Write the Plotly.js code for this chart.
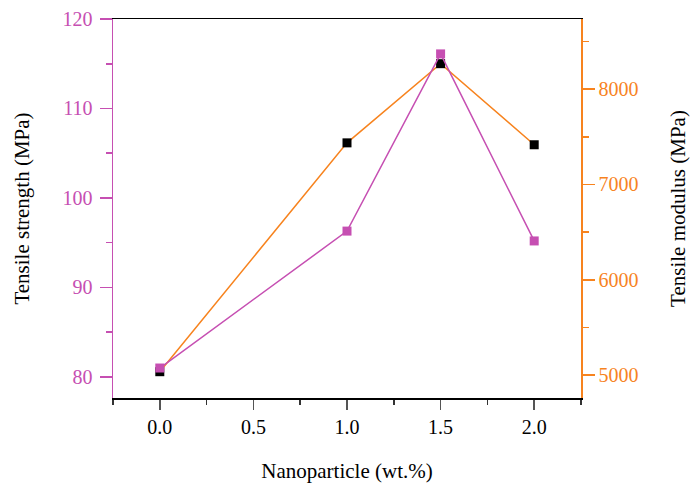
<!DOCTYPE html>
<html>
<head>
<meta charset="utf-8">
<script src="https://cdn.plot.ly/plotly-3.0.1.min.js"></script>
<style>html,body{margin:0;padding:0;background:#fff;}#chart{width:690px;height:483px;}</style>
</head>
<body>
<div id="chart"></div>
<script>
const nanoparticle = [0.0, 1.0, 1.5, 2.0];
const tensileStrength = [81.0, 96.3, 116.1, 95.2];
const tensileModulus = [5035, 7437, 8268, 7417];

const pink = '#C64FB2';
const orange = '#F7831E';
const fontFam = '"Liberation Serif", "Times New Roman", serif';

const modulusTrace = {
  x: nanoparticle, y: tensileModulus, yaxis: 'y', type: 'scatter', mode: 'lines+markers',
  line: {color: orange, width: 1.5},
  marker: {symbol: 'square', size: 9, color: '#000000'},
  showlegend: false, hoverinfo: 'none'
};
const strengthTrace = {
  x: nanoparticle, y: tensileStrength, yaxis: 'y2', type: 'scatter', mode: 'lines+markers',
  line: {color: pink, width: 1.5},
  marker: {symbol: 'square', size: 9, color: pink},
  showlegend: false, hoverinfo: 'none'
};

const layout = {
  width: 690, height: 483,
  margin: {l: 113, r: 109, t: 19, b: 85},
  paper_bgcolor: '#fff', plot_bgcolor: '#fff',
  font: {family: fontFam, size: 20, color: '#000'},
  showlegend: false,
  xaxis: {
    domain: [0, 1],
    range: [-0.25, 2.25], tick0: 0, dtick: 0.5, tickformat: '.1f',
    ticks: 'outside', ticklen: 10, tickwidth: 1.5, tickcolor: '#555',
    showline: true, linecolor: '#000', linewidth: 1.5, mirror: true,
    showgrid: false, zeroline: false,
    minor: {dtick: 0.25, tick0: 0, ticks: 'outside', ticklen: 5, tickwidth: 1.5, tickcolor: '#333', showgrid: false},
    tickfont: {family: fontFam, size: 20, color: '#000'},
    title: {text: 'Nanoparticle (wt.%)', standoff: 31, font: {family: fontFam, size: 21, color: '#000'}}
  },
  yaxis: {
    side: 'right', range: [4759, 8737], tick0: 0, dtick: 1000,
    ticks: 'outside', ticklen: 12, tickwidth: 1.5, tickcolor: orange,
    showline: true, linecolor: orange, linewidth: 1.5,
    showgrid: false, zeroline: false,
    minor: {dtick: 500, tick0: 0, ticks: 'outside', ticklen: 6, tickwidth: 1.5, tickcolor: orange, showgrid: false},
    tickfont: {family: fontFam, size: 20, color: orange},
    title: {text: 'Tensile modulus (MPa)', standoff: 36, font: {family: fontFam, size: 21, color: '#000'}}
  },
  yaxis2: {
    overlaying: 'y', side: 'left', range: [77.65, 120], tick0: 0, dtick: 10,
    ticks: 'outside', ticklen: 12, tickwidth: 1.5, tickcolor: pink,
    showline: true, linecolor: pink, linewidth: 1.5,
    showgrid: false, zeroline: false, ticklabelstandoff: 3,
    minor: {dtick: 5, tick0: 0, ticks: 'outside', ticklen: 6, tickwidth: 1.5, tickcolor: pink, showgrid: false},
    tickfont: {family: fontFam, size: 20, color: pink},
    title: {text: 'Tensile strength (MPa)', standoff: 27, font: {family: fontFam, size: 21, color: '#000'}}
  }
};

Plotly.newPlot('chart', [modulusTrace, strengthTrace], layout, {displayModeBar: false, staticPlot: true});
</script>
</body>
</html>
